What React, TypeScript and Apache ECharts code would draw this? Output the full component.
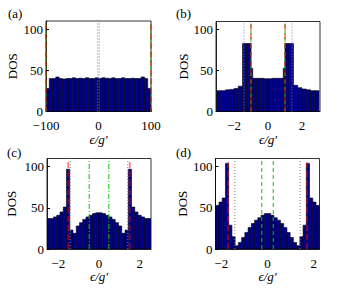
import React, { useEffect, useRef } from "react";
import * as echarts from "echarts";

// ---------- data ----------
// (a) uniform bins from -100 to 100
const binStartA = -100;
const binWidthA = 6.25;
const dosA = [28, 40, 40, 42, 40, 39.5, 40, 40, 41, 40, 40.5, 40, 41, 40, 40, 41, 40, 41, 40.5, 40, 41, 40, 40, 41, 40, 40, 40.5, 40, 40, 42, 40, 28];

// (b) bin edges and heights
const edgesB = [-3.0, -2.75, -2.5, -2.25, -2.0, -1.75, -1.5, -1.25, -1.0, -0.9, -0.675, -0.45, -0.225, 0, 0.225, 0.45, 0.675, 0.9, 1.0, 1.25, 1.5, 1.75, 2.0, 2.25, 2.5, 2.75, 3.0];
const dosB = [25.5, 25.5, 26.5, 27, 28, 31, 83, 83, 53, 40.5, 40.5, 40.5, 40, 40, 40.5, 40.5, 40.5, 53, 83, 83, 32, 29, 27.5, 26.5, 25.5, 25.5];

// (c) uniform bins
const binStartC = -2.55;
const binWidthC = 0.159375;
const dosC = [37, 37, 39, 41, 45, 51, 97, 23, 19, 28, 32, 36, 39, 41, 43, 44, 44, 43, 41, 39, 36, 32, 28, 19, 23, 97, 51, 45, 41, 39, 37, 37];

// (d) uniform bins
const binStartD = -2.24;
const binWidthD = 0.14;
const dosD = [53, 57, 62, 104, 29, 15, 4, 8, 14, 20, 26, 31, 35, 38, 41, 43, 43, 41, 38, 35, 31, 26, 20, 14, 8, 4, 15, 29, 104, 62, 57, 53];

// axis ranges and ticks
const xRangeA = [-100, 100];
const xRangeB = [-3.06, 3.06];
const xRangeC = [-2.55, 2.55];
const xRangeD = [-2.25, 2.25];
const xTicksA = [-100, 0, 100];
const xTicksBCD = [-2, 0, 2];
const yMax = 110;
const yInterval = 50;

// reference lines
const redA = [-100, 100];
const greenA = [-100, 100];
const dotA = [-1.414, 1.414];
const redB = [-1, 1];
const greenB = [-1, 1];
const dotB = [-1.414, 1.414];
const redC = [-1.51, 1.51];
const greenC = [-0.48, 0.48];
const dotC = [-1.414, 1.414];
const redD = [-1.71, 1.71];
const greenD = [-0.25, 0.25];
const dotD = [-1.414, 1.414];

const panelLabels = ["(a)", "(b)", "(c)", "(d)"];
const yName = "DOS";
const xName = "ϵ/g′";

// ---------- helpers ----------
const FONT = "Liberation Serif";

function uniformBins(start: number, width: number, heights: number[]) {
  return heights.map((h, i) => [start + i * width, start + (i + 1) * width, h]);
}
function edgeBins(edges: number[], heights: number[]) {
  return heights.map((h, i) => [edges[i], edges[i + 1], h]);
}

const panels = [
  {
    grid: { left: 46, top: 21, width: 105, height: 90.5 },
    range: xRangeA, ticks: xTicksA, bins: uniformBins(binStartA, binWidthA, dosA),
    red: redA, green: greenA, greenType: [4, 3], dot: dotA,
    label: panelLabels[0], labelPos: [8, 7], nameGap: 27,
  },
  {
    grid: { left: 216, top: 21.5, width: 104, height: 90 },
    range: xRangeB, ticks: xTicksBCD, bins: edgeBins(edgesB, dosB),
    red: redB, green: greenB, greenType: [4, 3], dot: dotB,
    label: panelLabels[1], labelPos: [176, 7], nameGap: 25,
  },
  {
    grid: { left: 47, top: 158.5, width: 104, height: 90.5 },
    range: xRangeC, ticks: xTicksBCD, bins: uniformBins(binStartC, binWidthC, dosC),
    red: redC, green: greenC, greenType: [5, 2, 1, 2], dot: dotC,
    label: panelLabels[2], labelPos: [7, 146], nameGap: 29,
  },
  {
    grid: { left: 215.5, top: 158.5, width: 104, height: 90.5 },
    range: xRangeD, ticks: xTicksBCD, bins: uniformBins(binStartD, binWidthD, dosD),
    red: redD, green: greenD, greenType: [4, 3], dot: dotD,
    label: panelLabels[3], labelPos: [176, 146], nameGap: 26,
  },
];

function fmt(v: number) {
  return v < 0 ? "\u2212" + Math.abs(v) : String(v);
}

function buildOption() {
  const grids: any[] = [];
  const xAxes: any[] = [];
  const yAxes: any[] = [];
  const series: any[] = [];
  const graphics: any[] = [];

  panels.forEach((p, i) => {
    grids.push({
      ...p.grid,
      show: true,
      borderColor: "#000",
      borderWidth: 0.8,
      backgroundColor: "#fff",
      containLabel: false,
    });
    xAxes.push({
      type: "value",
      gridIndex: i,
      min: p.range[0],
      max: p.range[1],
      name: xName,
      nameLocation: "middle",
      nameGap: 20,
      nameTextStyle: { fontFamily: FONT, fontSize: 13, fontStyle: "italic", color: "#000" },
      axisLine: { show: true, onZero: false, lineStyle: { color: "#000", width: 0.8 } },
      axisTick: { show: true, inside: true, length: 3, customValues: p.ticks, lineStyle: { color: "#000" } },
      axisLabel: {
        customValues: p.ticks,
        formatter: (v: number) => fmt(v),
        fontFamily: FONT,
        fontSize: 13,
        lineHeight: 12,
        color: "#000",
        margin: 8,
      },
      splitLine: { show: false },
    });
    yAxes.push({
      type: "value",
      gridIndex: i,
      min: 0,
      max: yMax,
      interval: yInterval,
      name: yName,
      nameLocation: "middle",
      nameRotate: 90,
      nameGap: p.nameGap,
      nameTextStyle: { fontFamily: FONT, fontSize: 13, color: "#000" },
      axisLine: { show: true, onZero: false, lineStyle: { color: "#000", width: 0.8 } },
      axisTick: { show: true, inside: true, length: 3, lineStyle: { color: "#000" } },
      axisLabel: { fontFamily: FONT, fontSize: 13, lineHeight: 10, color: "#000", margin: 3, showMaxLabel: false },
      splitLine: { show: false },
    });
    series.push({
      type: "custom",
      xAxisIndex: i,
      yAxisIndex: i,
      clip: true,
      silent: true,
      data: p.bins,
      encode: { x: [0, 1], y: 2 },
      renderItem: (params: any, api: any) => {
        const x0 = api.value(0);
        const x1 = api.value(1);
        const h = api.value(2);
        const a = api.coord([x0, h]);
        const b = api.coord([x1, 0]);
        const cs = params.coordSys;
        const r = echarts.graphic.clipRectByRect(
          { x: a[0], y: a[1], width: b[0] - a[0], height: b[1] - a[1] },
          { x: cs.x, y: cs.y, width: cs.width, height: cs.height }
        );
        if (!r) return null;
        return {
          type: "rect",
          shape: r,
          style: { fill: "#00008c", stroke: "#000", lineWidth: 0.6 },
        };
      },
      z: 2,
    });
    const vline = (x: number, color: string, type: any, width: number, opacity: number, z: number) => ({
      type: "line",
      xAxisIndex: i,
      yAxisIndex: i,
      data: [[x, 0], [x, yMax]],
      symbol: "none",
      silent: true,
      lineStyle: { color, type, width, opacity },
      z,
    });
    p.dot.forEach((x) => series.push(vline(x, "#808080", [1, 2], 1, 1, 3)));
    p.green.forEach((x) => series.push(vline(x, "#00cc00", p.greenType, 1.2, 0.85, 4)));
    p.red.forEach((x) => series.push(vline(x, "#ff0000", [6, 3], 1.8, 0.5, 5)));
    graphics.push({
      type: "text",
      left: p.labelPos[0],
      top: p.labelPos[1],
      style: { text: p.label, font: `13px ${FONT}`, fill: "#000" },
    });
  });

  return {
    animation: false,
    backgroundColor: "#fff",
    grid: grids,
    xAxis: xAxes,
    yAxis: yAxes,
    series,
    graphic: graphics,
  };
}

export default function App() {
  const ref = useRef<HTMLDivElement>(null);
  useEffect(() => {
    if (!ref.current) return;
    const chart = echarts.init(ref.current, null, { renderer: "svg" });
    chart.setOption(buildOption() as any);
    return () => chart.dispose();
  }, []);
  return (
    <div
      ref={ref}
      style={{ position: "absolute", left: 0, top: 0, width: 346, height: 290, background: "#fff" }}
    />
  );
}
